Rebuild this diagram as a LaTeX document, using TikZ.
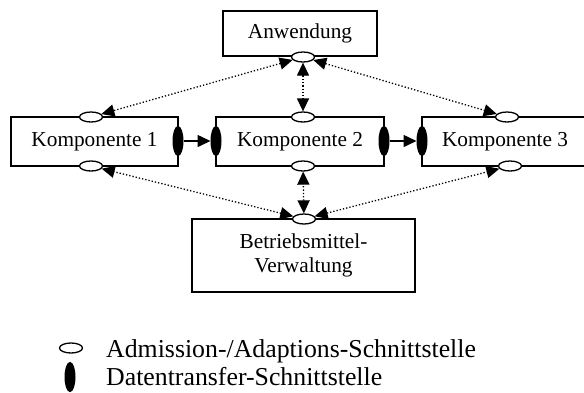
\documentclass[tikz,border=0pt]{standalone}
\usepackage{fontspec}
\setmainfont{Liberation Serif}
\usetikzlibrary{shapes.geometric,arrows.meta}
\tikzset{
  box/.style={draw,line width=1.3pt,minimum height=49pt,inner sep=2pt,font=\fontsize{21.3}{24}\selectfont,align=center},
  adm/.style={ellipse,draw,line width=1.3pt,fill=white,minimum width=23pt,minimum height=10pt,inner sep=0pt},
  dat/.style={ellipse,draw,line width=1pt,fill=black,minimum width=10pt,minimum height=29pt,inner sep=0pt},
  tip/.style={},
  ctl/.style={line width=1.3pt,dotted,{Triangle[length=13pt,width=12pt]}-{Triangle[length=13pt,width=12pt]}},
  flow/.style={line width=1.5pt,-{Triangle[length=13pt,width=12pt]}},
  legtext/.style={anchor=base west,inner sep=0pt,font=\fontsize{25.8}{28}\selectfont}
}
\begin{document}
\begin{tikzpicture}[x=1pt,y=-1pt]
\path[use as bounding box,clip] (0,0) rectangle (584,392);
% boxes
\node[box,minimum width=154pt,minimum height=45pt] (anw) at (300,33.5) {Anwendung};
\node[box,minimum width=167pt] (k1) at (94.5,141.5) {Komponente 1};
\node[box,minimum width=168pt] (k2) at (300,141.5) {Komponente 2};
\node[box,minimum width=166pt] (k3) at (505,141.5) {Komponente 3};
\node[box,minimum width=223pt,minimum height=73pt] (bm) at (303.5,255.5) {Betriebsmittel-\\Verwaltung};
% admission interfaces
\node[adm] (ia) at (303,57) {};
\node[adm] (i1t) at (91,117) {};
\node[adm] (i1b) at (91,166) {};
\node[adm] (i2t) at (303,117) {};
\node[adm] (i2b) at (303,166) {};
\node[adm] (i3t) at (507,117) {};
\node[adm] (i3b) at (510,166) {};
\node[adm] (ib) at (304,219) {};
% data interfaces
\node[dat] (d1r) at (178,141) {};
\node[dat] (d2l) at (216,141) {};
\node[dat] (d2r) at (384,141) {};
\node[dat] (d3l) at (422,141) {};
% connectors
\draw[ctl] (ia) -- (i1t);
\draw[ctl] (ia) -- (i2t);
\draw[ctl] (ia) -- (i3t);
\draw[ctl] (ib) -- (i1b);
\draw[ctl] (ib) -- (i2b);
\draw[ctl] (ib) -- (i3b);
\draw[flow] (d1r) -- (d2l);
\draw[flow] (d2r) -- (d3l);
% legend
\node[adm] (la) at (71,348) {};
\node[dat] (ld) at (70,377) {};
\node[legtext] (lta) at (106,357) {Admission-/Adaptions-Schnittstelle};
\node[legtext] (ltd) at (106,385) {Datentransfer-Schnittstelle};
\end{tikzpicture}
\end{document}
